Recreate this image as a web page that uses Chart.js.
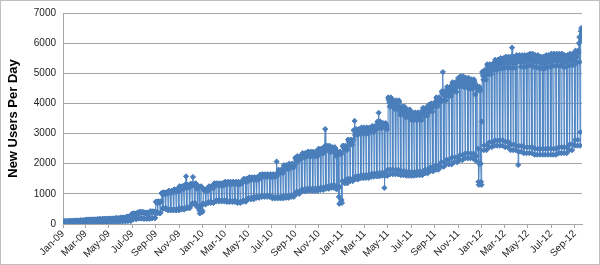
<!DOCTYPE html>
<html>
<head>
<meta charset="utf-8">
<script src="https://cdn.jsdelivr.net/npm/chart.js@4"></script>
<style>
  html, body { margin: 0; padding: 0; background: #fff; }
</style>
</head>
<body>
<canvas id="chart" width="600" height="265"></canvas>
<script>
const startDate = '2009-01-01';
const endDate = '2012-09-20';

// weekday peak read per half month, Jan-09 .. Sep-12
const halfMonthHigh = [
  90, 100, 110, 120, 140, 150, 160, 170, 180, 190, 210, 240,
  350, 400, 380, 420, 750, 1050, 1100, 1150, 1250, 1300, 1350, 1250,
  1150, 1250, 1350, 1350, 1400, 1400, 1400, 1500, 1550, 1550, 1650, 1650,
  1650, 1800, 1950, 2000, 2250, 2350, 2400, 2400, 2500, 2600, 2550, 2400,
  2600, 2800, 3150, 3200, 3200, 3250, 3400, 3350, 4200, 4100, 3900, 3800,
  3700, 3700, 3850, 4000, 4200, 4400, 4550, 4700, 4900, 4850, 4800, 4600,
  5100, 5300, 5450, 5500, 5550, 5550, 5600, 5600, 5650, 5600, 5550, 5600,
  5650, 5650, 5600, 5650, 5750, 6100
];
// weekend low read per half month
const halfMonthLow = [
  40, 45, 50, 50, 55, 60, 65, 70, 75, 80, 90, 100,
  160, 180, 170, 190, 350, 500, 450, 450, 480, 520, 650, 550,
  650, 700, 750, 750, 730, 730, 700, 740, 820, 870, 900, 900,
  850, 850, 870, 900, 1000, 1080, 1100, 1100, 1130, 1170, 1200, 1150,
  1350, 1420, 1480, 1520, 1530, 1570, 1580, 1600, 1650, 1650, 1620, 1600,
  1600, 1620, 1680, 1750, 1800, 1900, 1980, 2050, 2120, 2180, 2180, 2100,
  2450, 2550, 2600, 2600, 2550, 2450, 2400, 2350, 2350, 2300, 2300, 2300,
  2300, 2350, 2350, 2450, 2600, 2850
];
// where each weekday sits between the low and the peak, Sun .. Sat
const weekdayShare = [0.06, 1.0, 0.98, 0.96, 0.93, 0.88, 0];

// single days that stand out
const oddDays = [
  '2009-11-19', '2009-12-07', '2009-12-24', '2009-12-25', '2009-12-31', '2010-01-01',
  '2010-07-14', '2010-11-18', '2010-12-24', '2010-12-25', '2010-12-31', '2011-01-01',
  '2011-02-03', '2011-04-07', '2011-04-22', '2011-09-22',
  '2011-12-23', '2011-12-24', '2011-12-25', '2011-12-26', '2011-12-30', '2011-12-31',
  '2012-01-01', '2012-01-02', '2012-03-21', '2012-04-06',
  '2012-09-12', '2012-09-13', '2012-09-17', '2012-09-18', '2012-09-19', '2012-09-20'
];
const oddValues = [
  1580, 1560, 450, 350, 450, 400,
  2070, 3150, 900, 670, 800, 700,
  3420, 3690, 1200, 5040,
  2500, 1400, 1300, 2000, 2000, 1400,
  1300, 3400, 5850, 1960,
  6000, 6200, 6400, 6500, 6300, 6100
];

const tickLabels = [
  'Jan-09', 'Mar-09', 'May-09', 'Jul-09', 'Sep-09', 'Nov-09',
  'Jan-10', 'Mar-10', 'May-10', 'Jul-10', 'Sep-10', 'Nov-10',
  'Jan-11', 'Mar-11', 'May-11', 'Jul-11', 'Sep-11', 'Nov-11',
  'Jan-12', 'Mar-12', 'May-12', 'Jul-12', 'Sep-12'
];
const yTicks = [0, 1000, 2000, 3000, 4000, 5000, 6000, 7000];

const DAY = 86400000;
const t0 = Date.parse(startDate);
const dayIndex = s => Math.round((Date.parse(s) - t0) / DAY);
const lastDay = dayIndex(endDate);
const monthNames = ['Jan','Feb','Mar','Apr','May','Jun','Jul','Aug','Sep','Oct','Nov','Dec'];

const points = [];
for (let d = 0; d <= lastDay; d++) {
  const dt = new Date(t0 + d * DAY);
  const m = (dt.getUTCFullYear() - 2009) * 12 + dt.getUTCMonth();
  const h = m * 2 + (dt.getUTCDate() > 15 ? 1 : 0);
  const lo = halfMonthLow[h], hi = halfMonthHigh[h];
  points.push({ x: d, y: Math.round(lo + (hi - lo) * weekdayShare[dt.getUTCDay()]) });
}
oddDays.forEach((s, i) => { points[dayIndex(s)].y = oddValues[i]; });

const tickDays = tickLabels.map(l => {
  const mon = monthNames.indexOf(l.slice(0, 3)) + 1;
  return dayIndex('20' + l.slice(4) + '-' + String(mon).padStart(2, '0') + '-01');
});

const frame = {
  id: 'frame',
  afterDraw: (chart) => {
    const { ctx } = chart;
    ctx.save();
    ctx.strokeStyle = '#BFBFBF';
    ctx.lineWidth = 1;
    ctx.strokeRect(0.5, 0.5, chart.width - 1, chart.height - 1);
    ctx.restore();
  }
};

new Chart(document.getElementById('chart'), {
  type: 'line',
  data: {
    datasets: [{
      data: points,
      borderColor: '#5086C4',
      borderWidth: 1,
      pointStyle: 'rectRot',
      pointRadius: 2.6,
      pointBorderWidth: 1,
      pointBackgroundColor: '#4A7EBB',
      pointBorderColor: '#4A7EBB',
      tension: 0
    }]
  },
  options: {
    responsive: false,
    animation: false,
    devicePixelRatio: 1,
    layout: { padding: { top: 8, right: 18, left: 0, bottom: 0 } },
    plugins: {
      legend: { display: false },
      tooltip: { enabled: false }
    },
    scales: {
      x: {
        type: 'linear',
        min: 0,
        max: lastDay,
        afterBuildTicks: scale => { scale.ticks = tickDays.map(v => ({ value: v })); },
        afterFit: scale => { scale.height = 41; },
        grid: {
          drawOnChartArea: false,
          drawTicks: true,
          tickLength: 4,
          color: '#A6A6A6'
        },
        border: { color: '#A6A6A6' },
        ticks: {
          autoSkip: false,
          maxRotation: 45,
          minRotation: 45,
          padding: 0,
          color: '#222',
          font: { family: 'Liberation Sans', size: 10 },
          callback: (value, i) => tickLabels[i]
        }
      },
      y: {
        min: 0,
        max: 7000,
        afterBuildTicks: scale => { scale.ticks = yTicks.map(v => ({ value: v })); },
        afterFit: scale => { scale.width = 63; },
        grid: { color: '#A6A6A6', drawTicks: false },
        border: { color: '#A6A6A6' },
        ticks: {
          padding: 7,
          color: '#222',
          font: { family: 'Liberation Sans', size: 10 },
          callback: (value, i) => String(yTicks[i])
        },
        title: {
          display: true,
          text: 'New Users Per Day',
          color: '#000',
          padding: { top: 6, bottom: 0 },
          font: { family: 'Liberation Sans', size: 13, weight: 'bold' }
        }
      }
    }
  },
  plugins: [frame]
});
</script>
</body>
</html>
